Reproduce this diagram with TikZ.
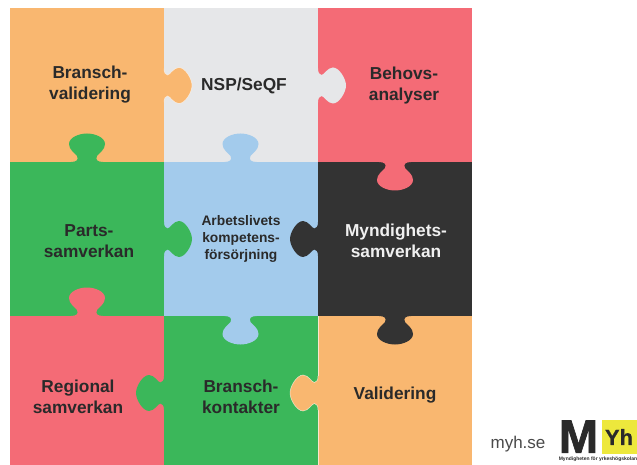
\documentclass[tikz,border=0pt]{standalone}
\usepackage{fontspec}
\setmainfont{Liberation Sans}
\newfontfamily\logofont[FakeBold=1.6]{Liberation Sans Bold}
\newfontfamily\yhfont[FakeBold=.6]{Liberation Sans Bold}
\definecolor{porange}{HTML}{F9B770}
\definecolor{pgray}{HTML}{E6E7E9}
\definecolor{pred}{HTML}{F46B76}
\definecolor{pgreen}{HTML}{3BB75A}
\definecolor{pblue}{HTML}{A3CBEC}
\definecolor{pblack}{HTML}{333333}
\definecolor{ink}{HTML}{2A2A2A}
\definecolor{pyellow}{HTML}{EDE83C}
\tikzset{
  biglabel/.style={font=\bfseries\fontsize{17.3}{21}\selectfont,text=ink,align=center,inner sep=0pt},
  smalllabel/.style={font=\bfseries\fontsize{13.8}{17}\selectfont,text=ink,align=center,inner sep=0pt},
  seam/.style={draw=white,draw opacity=.65,line width=.5pt}
}
% tab across a horizontal seam: centre x, centre y, rotation, colour
\newcommand{\uptab}[4]{%
  \begin{scope}[shift={(#1,#2)},rotate=#3]
    \fill[#4] (-16,1) -- (-16,0) .. controls (-11,0) and (-8,-2) .. (-10,-6)
      .. controls (-12,-9) and (-18,-12) .. (-18,-18)
      .. controls (-18,-24.5) and (-8,-28.5) .. (0,-28.5)
      .. controls (8,-28.5) and (18,-24.5) .. (18,-18)
      .. controls (18,-12) and (12,-9) .. (10,-6)
      .. controls (8,-2) and (11,0) .. (16,0) -- (16,1) -- cycle;
  \end{scope}}
% tab across a vertical seam: centre x, centre y, rotation, colour, edge style
\newcommand{\sidetab}[5]{%
  \begin{scope}[shift={(#1,#2)},rotate=#3]
    \fill[#4] (-17,1) -- (-17,0) .. controls (-13,0) and (-10.5,-1.5) .. (-10.5,-3.5)
      .. controls (-10.5,-6) and (-18,-9.5) .. (-18,-15)
      .. controls (-18,-21) and (-7,-28) .. (0,-28)
      .. controls (7,-28) and (18,-21) .. (18,-15)
      .. controls (18,-9.5) and (10.5,-6) .. (10.5,-3.5)
      .. controls (10.5,-1.5) and (13,0) .. (17,0) -- (17,1) -- cycle;
    \path[#5] (-17,0) .. controls (-13,0) and (-10.5,-1.5) .. (-10.5,-3.5)
      .. controls (-10.5,-6) and (-18,-9.5) .. (-18,-15)
      .. controls (-18,-21) and (-7,-28) .. (0,-28)
      .. controls (7,-28) and (18,-21) .. (18,-15)
      .. controls (18,-9.5) and (10.5,-6) .. (10.5,-3.5)
      .. controls (10.5,-1.5) and (13,0) .. (17,0);
  \end{scope}}
\begin{document}
\begin{tikzpicture}[x=1pt,y=-1pt]
\useasboundingbox (0,0) rectangle (637,465);
\fill[white] (0,0) rectangle (637,465);
% cells
\fill[porange] (10,8) rectangle (164,162);
\fill[pgray]   (164,8) rectangle (318,162);
\fill[pred]    (318,8) rectangle (472,162);
\fill[pgreen]  (10,162) rectangle (164,316);
\fill[pblue]   (164,162) rectangle (318,316);
\fill[pblack]  (318,162) rectangle (472,316);
\fill[pred]    (10,316) rectangle (164,465);
\fill[pgreen]  (164,316) rectangle (318,465);
\fill[porange] (318,316) rectangle (472,465);
% vertical seams
\draw[seam] (318,316) -- (318,465);
% tabs across vertical seams
\sidetab{164}{85.5}{-90}{porange}{seam}
\sidetab{318}{85.5}{-90}{pgray}{}
\sidetab{164}{239}{-90}{pgreen}{}
\sidetab{318}{239}{90}{pblack}{}
\sidetab{164}{393}{90}{pgreen}{}
\sidetab{318}{393}{90}{porange}{seam}
% tabs across horizontal seams
\uptab{87}{162}{0}{pgreen}
\uptab{240.5}{162}{0}{pblue}
\uptab{395}{162}{180}{pred}
\uptab{87}{316}{0}{pred}
\uptab{240.5}{316}{180}{pblue}
\uptab{395}{316}{180}{pblack}
% labels
\node[biglabel] (bv) at (90,85) {Bransch-\\validering};
\node[biglabel] (nsp) at (244,85.5) {NSP/SeQF};
\node[biglabel] (beh) at (404,85.5) {Behovs-\\analyser};
\node[biglabel] (par) at (89,241) {Parts-\\samverkan};
\node[smalllabel] (arb) at (241,239) {Arbetslivets\\kompetens-\\försörjning};
\node[biglabel,text=white!94!black] (myn) at (396,241) {Myndighets-\\samverkan};
\node[biglabel] (reg) at (78,396.5) {Regional\\samverkan};
\node[biglabel] (bk) at (241,396.5) {Bransch-\\kontakter};
\node[biglabel] (val) at (395,395) {Validering};
% footer
\node[font=\fontsize{17}{20}\selectfont,text=ink!85!white,inner sep=0pt] (web) at (518,444) {myh.se};
\fill[pyellow] (602,419.5) rectangle (637,454);
\node[font=\logofont\fontsize{47}{47}\selectfont,text=ink,inner sep=0pt] (logom) at (578.5,436.7) {M};
\node[font=\yhfont\fontsize{22}{22}\selectfont,text=ink,inner sep=0pt] (logoy) at (619,437) {Yh};
\node[font=\bfseries\fontsize{5}{6}\selectfont,text=ink,inner sep=0pt] (logot) at (598,459.5) {Myndigheten för yrkeshögskolan};
\end{tikzpicture}
\end{document}
